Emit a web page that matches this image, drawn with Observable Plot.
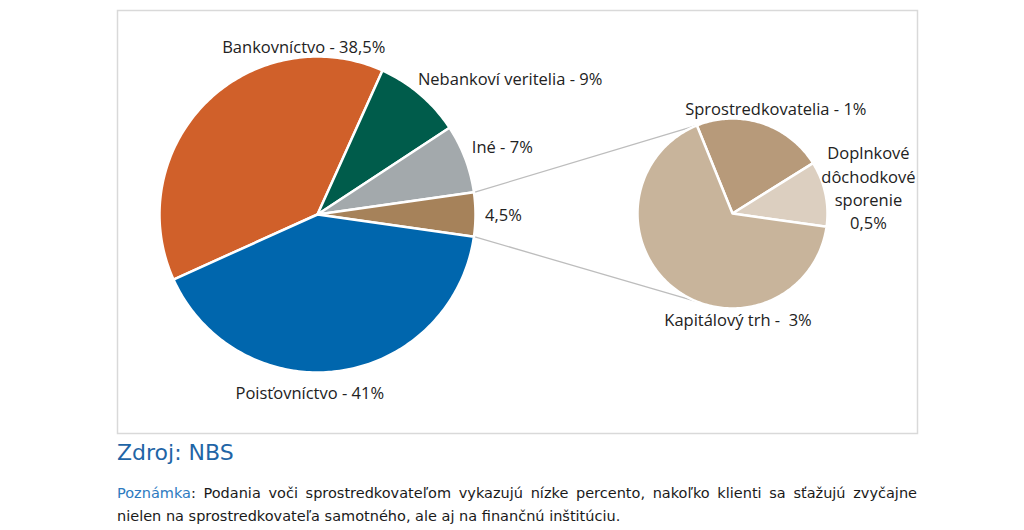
<!DOCTYPE html>
<html>
<head>
<meta charset="utf-8">
<script src="https://cdn.jsdelivr.net/npm/d3@7"></script>
<script src="https://cdn.jsdelivr.net/npm/@observablehq/plot@0.6"></script>
<style>
  html, body { margin: 0; padding: 0; background: #fff; }
  #wrap { position: relative; width: 1024px; height: 530px; overflow: hidden; }
  #zdroj { position: absolute; left: 117px; top: 440px; font: 22px/26px "DejaVu Sans", sans-serif; color: #1f65a6; }
  #note { position: absolute; left: 117px; top: 482px; width: 800px; font: 14.5px/23px "DejaVu Sans", sans-serif; color: #1a1a1a; }
  #note .l1 { text-align: justify; text-align-last: justify; white-space: nowrap; }
  #note .blue { color: #2e7bbf; }
</style>
</head>
<body>
<div id="wrap">
  <div id="chart"></div>
  <div id="zdroj">Zdroj: NBS</div>
  <div id="note">
    <div class="l1"><span class="blue">Poznámka</span>: Podania voči sprostredkovateľom vykazujú nízke percento, nakoľko klienti sa sťažujú zvyčajne</div>
    <div>nielen na sprostredkovateľa samotného, ale aj na finančnú inštitúciu.</div>
  </div>
</div>
<script>
// ---- data ----
const mainCategories = ["Bankovníctvo", "Nebankoví veritelia", "Iné", "Ostatné", "Poisťovníctvo"];
const mainValues = [38.5, 9, 7, 4.5, 41];
const mainLabels = ["Bankovníctvo - 38,5%", "Nebankoví veritelia - 9%", "Iné - 7%", "4,5%", "Poisťovníctvo - 41%"];
const mainColors = ["#d0602a", "#005c4b", "#a3a9ac", "#a6825a", "#0066ad"];

const subCategories = ["Sprostredkovatelia", "Doplnkové dôchodkové sporenie", "Kapitálový trh"];
const subValues = [1, 0.5, 3];
const subLabels = ["Sprostredkovatelia - 1%", "Doplnkové\ndôchodkové\nsporenie\n0,5%", "Kapitálový trh -  3%"];
const subColors = ["#b79a7a", "#dccfc0", "#c8b49b"];

const explodedCategory = "Ostatné";

// ---- layout ----
const mainPie = {cx: 317, cy: 214, r: 158};
const subPie = {cx: 732, cy: 213, r: 95};
const subStartDeg = -22;
const mainLabelOffsets = [[98, -57], [90, -17], [37, -13], [28, -1], [-30, 21]];
const subLabelOffsets = [[14, -16], [43, -7], [64, 30]];

const rad = Math.PI / 180;
const pt = (p, a, r) => [p.cx + r * Math.sin(a), p.cy - r * Math.cos(a)];

// main pie angles: exploded slice centred on 3 o'clock
const total = d3.sum(mainValues);
const idx = mainCategories.indexOf(explodedCategory);
const before = d3.sum(mainValues.slice(0, idx));
const offset = Math.PI / 2 - (before + mainValues[idx] / 2) / total * 2 * Math.PI;
const mainArcs = d3.pie().sort(null).startAngle(offset).endAngle(offset + 2 * Math.PI)(mainValues);
const subArcs = d3.pie().sort(null).startAngle(subStartDeg * rad).endAngle(subStartDeg * rad + 2 * Math.PI)(subValues);

function slicePoints(p, arcs, cats) {
  const pts = [];
  arcs.forEach((a, i) => {
    const cat = cats[i];
    const n = Math.max(2, Math.ceil((a.endAngle - a.startAngle) / rad));
    pts.push({cat, x: p.cx, y: p.cy});
    for (let k = 0; k <= n; k++) {
      const t = a.startAngle + (a.endAngle - a.startAngle) * k / n;
      const [x, y] = pt(p, t, p.r);
      pts.push({cat, x, y});
    }
    pts.push({cat, x: p.cx, y: p.cy});
  });
  return pts;
}
const mainPts = slicePoints(mainPie, mainArcs, mainCategories);
const subPts = slicePoints(subPie, subArcs, subCategories);

function labelData(p, arcs, labels, offs) {
  return arcs.map((a, i) => {
    const m = (a.startAngle + a.endAngle) / 2;
    const [x, y] = pt(p, m, p.r);
    return {label: labels[i], x: x + offs[i][0], y: y + offs[i][1]};
  });
}
const labels = labelData(mainPie, mainArcs, mainLabels, mainLabelOffsets)
  .concat(labelData(subPie, subArcs, subLabels, subLabelOffsets));

const ex = mainArcs[idx];
const s0 = subStartDeg * rad;
const [ux1, uy1] = pt(mainPie, ex.startAngle, mainPie.r + 1);
const [ux2, uy2] = pt(subPie, s0, subPie.r);
const [lx1, ly1] = pt(mainPie, ex.endAngle, mainPie.r + 1);
const [lx2, ly2] = pt(subPie, Math.PI - s0, subPie.r);
const connectors = [{x1: ux1, y1: uy1, x2: ux2, y2: uy2}, {x1: lx1, y1: ly1, x2: lx2, y2: ly2}];

const chart = Plot.plot({
  width: 1024,
  height: 440,
  marginLeft: 117,
  marginRight: 107,
  marginTop: 10,
  marginBottom: 7,
  x: {domain: [0, 1024], range: [0, 1024], axis: null},
  y: {domain: [0, 440], range: [0, 440], axis: null},
  color: {domain: mainCategories.concat(subCategories), range: mainColors.concat(subColors)},
  style: {fontFamily: "'Open Sans', sans-serif", background: "#fff"},
  marks: [
    Plot.frame({stroke: "#d9d9d9", strokeWidth: 1.5}),
    Plot.link(connectors, {x1: "x1", y1: "y1", x2: "x2", y2: "y2", stroke: "#bdbdbd", strokeWidth: 1.3}),
    Plot.line(mainPts, {x: "x", y: "y", z: "cat", fill: "cat", stroke: "#fff", strokeWidth: 2.5, strokeLinejoin: "round"}),
    Plot.line(subPts, {x: "x", y: "y", z: "cat", fill: "cat", stroke: "#fff", strokeWidth: 2.5, strokeLinejoin: "round"}),
    Plot.text(labels, {x: "x", y: "y", text: "label", fontSize: 16.5, fill: "#222", lineHeight: 1.4, textAnchor: "middle", lineAnchor: "middle"})
  ]
});
document.getElementById("chart").appendChild(chart);
</script>
</body>
</html>
